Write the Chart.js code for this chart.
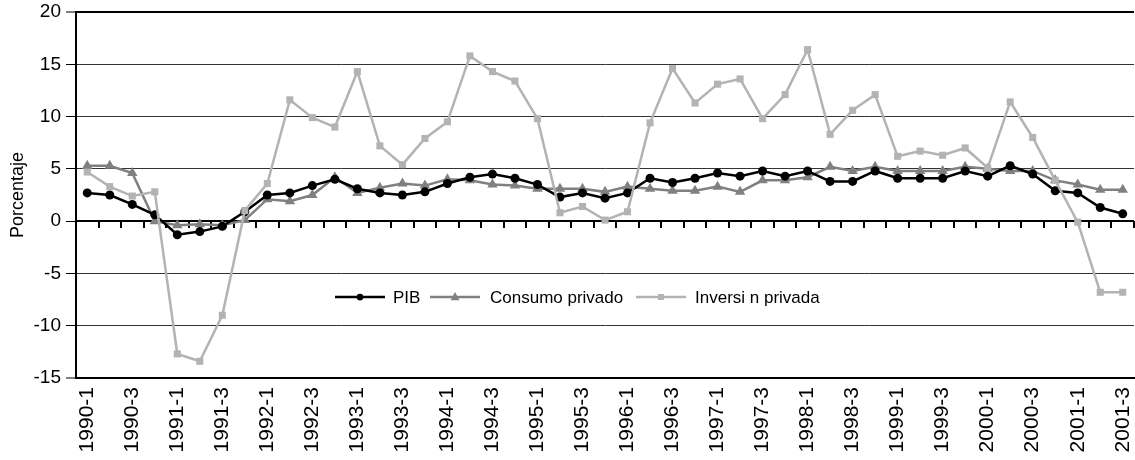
<!DOCTYPE html>
<html>
<head>
<meta charset="utf-8">
<script src="https://cdn.jsdelivr.net/npm/chart.js@4.4.1/dist/chart.umd.min.js"></script>
<style>
html,body{margin:0;padding:0;background:#fff;overflow:hidden;}
#wrap{width:1140px;height:460px;}
</style>
</head>
<body>
<div id="wrap"><canvas id="c" width="1140" height="460"></canvas></div>
<script>
// ---- data ----
const years = [1990,1991,1992,1993,1994,1995,1996,1997,1998,1999,2000,2001];
const quarters = [1,2,3,4];
const categories = [];
years.forEach(y => quarters.forEach(q => { if (!(y === 2001 && q === 4)) categories.push(y + '-' + q); }));

const pib = [2.7, 2.5, 1.6, 0.6, -1.3, -1.0, -0.5, 0.9, 2.5, 2.7, 3.4, 4.0, 3.1, 2.7, 2.5, 2.8,
  3.6, 4.2, 4.5, 4.1, 3.5, 2.3, 2.7, 2.2, 2.7, 4.1, 3.7, 4.1, 4.6, 4.3, 4.8, 4.3,
  4.8, 3.8, 3.8, 4.8, 4.1, 4.1, 4.1, 4.8, 4.3, 5.3, 4.5, 2.9, 2.7, 1.3, 0.7];
const consumoPrivado = [5.3, 5.3, 4.6, 0.0, -0.4, -0.3, -0.4, 0.1, 2.1, 1.9, 2.5, 4.2, 2.7, 3.2, 3.6, 3.4,
  4.0, 3.9, 3.5, 3.4, 3.1, 3.1, 3.1, 2.8, 3.3, 3.1, 2.9, 2.9, 3.3, 2.8, 3.9, 3.9,
  4.2, 5.2, 4.8, 5.2, 4.8, 4.8, 4.8, 5.2, 5.0, 4.8, 4.8, 3.9, 3.5, 3.0, 3.0];
const inversionPrivada = [4.7, 3.3, 2.4, 2.8, -12.7, -13.4, -9.0, 1.0, 3.6, 11.6, 9.9, 9.0, 14.3, 7.2, 5.4, 7.9,
  9.5, 15.8, 14.3, 13.4, 9.8, 0.8, 1.4, 0.1, 0.9, 9.4, 14.6, 11.3, 13.1, 13.6, 9.8, 12.1,
  16.4, 8.3, 10.6, 12.1, 6.2, 6.7, 6.3, 7.0, 5.1, 11.4, 8.0, 3.9, -0.1, -6.8, -6.8];
const seriesNames = ['PIB', 'Consumo privado', 'Inversi n privada'];
const yTicks = [-15, -10, -5, 0, 5, 10, 15, 20];
const yTitle = 'Porcentaje';

const FONT = "'Liberation Sans', Arial, sans-serif";

// zero line with category tick marks
const zeroAxisPlugin = {
  id: 'zeroAxis',
  beforeDatasetsDraw(chart) {
    const {ctx, chartArea, scales} = chart;
    const xs = scales.x, ys = scales.y;
    const y0 = Math.round(ys.getPixelForValue(0));
    ctx.save();
    ctx.strokeStyle = '#000';
    ctx.lineWidth = 2;
    ctx.beginPath();
    ctx.moveTo(chartArea.left, y0);
    ctx.lineTo(chartArea.right, y0);
    ctx.stroke();
    const n = categories.length;
    const step = xs.getPixelForValue(1) - xs.getPixelForValue(0);
    ctx.beginPath();
    for (let i = 1; i <= n; i++) {
      const x = Math.round(xs.getPixelForValue(i) - step / 2);
      ctx.moveTo(x, y0);
      ctx.lineTo(x, y0 + 7);
    }
    ctx.stroke();
    ctx.restore();
  }
};

// legend drawn inside the plot area
const innerLegendPlugin = {
  id: 'innerLegend',
  afterDatasetsDraw(chart) {
    const {ctx} = chart;
    const y = 297;
    const items = [
      {ds: 0, lx: 335, tx: 393},
      {ds: 1, lx: 430, tx: 490},
      {ds: 2, lx: 636, tx: 695}
    ];
    ctx.save();
    items.forEach(it => {
      const ds = chart.data.datasets[it.ds];
      ctx.strokeStyle = ds.borderColor;
      ctx.lineWidth = ds.borderWidth;
      ctx.beginPath();
      ctx.moveTo(it.lx, y);
      ctx.lineTo(it.lx + 50, y);
      ctx.stroke();
      const cx = it.lx + 25;
      ctx.fillStyle = ds.pointBackgroundColor;
      const r = ds.pointRadius * 0.75;
      ctx.beginPath();
      if (ds.pointStyle === 'circle') {
        ctx.arc(cx, y, r, 0, Math.PI * 2);
      } else if (ds.pointStyle === 'triangle') {
        ctx.moveTo(cx, y - r * 1.1);
        ctx.lineTo(cx + r, y + r * 0.7);
        ctx.lineTo(cx - r, y + r * 0.7);
        ctx.closePath();
      } else {
        ctx.rect(cx - r * 0.8, y - r * 0.8, r * 1.6, r * 1.6);
      }
      ctx.fill();
      ctx.fillStyle = '#000';
      ctx.font = '17px ' + FONT;
      ctx.textBaseline = 'middle';
      ctx.textAlign = 'left';
      ctx.fillText(seriesNames[it.ds], it.tx, y + 1);
    });
    ctx.restore();
  }
};

const gridColor = ctx => {
  const v = ctx.tick && ctx.tick.value;
  if (v === 20 || v === -15) return '#000';
  if (v === 0) return 'rgba(0,0,0,0)';
  return '#333';
};
const gridWidth = ctx => {
  const v = ctx.tick && ctx.tick.value;
  if (v === 20 || v === -15) return 2;
  return 1;
};

new Chart(document.getElementById('c'), {
  type: 'line',
  data: {
    labels: categories,
    datasets: [
      {
        label: seriesNames[0], data: pib, order: 2,
        borderColor: '#000', backgroundColor: '#000', pointBackgroundColor: '#000',
        pointBorderColor: '#000', borderWidth: 2.5, pointStyle: 'circle', pointRadius: 4.5,
        pointBorderWidth: 0, tension: 0
      },
      {
        label: seriesNames[1], data: consumoPrivado, order: 3,
        borderColor: '#808080', backgroundColor: '#808080', pointBackgroundColor: '#808080',
        pointBorderColor: '#808080', borderWidth: 2.5, pointStyle: 'triangle', pointRadius: 6,
        pointBorderWidth: 0, tension: 0
      },
      {
        label: seriesNames[2], data: inversionPrivada, order: 1,
        borderColor: '#b3b3b3', backgroundColor: '#b3b3b3', pointBackgroundColor: '#b3b3b3',
        pointBorderColor: '#b3b3b3', borderWidth: 2.5, pointStyle: 'rect', pointRadius: 5,
        pointBorderWidth: 0, tension: 0
      }
    ]
  },
  options: {
    responsive: false,
    animation: false,
    layout: {padding: {top: 12, right: 2, left: 0, bottom: 0}},
    plugins: {legend: {display: false}, tooltip: {enabled: false}},
    scales: {
      x: {
        offset: true,
        grid: {display: false, drawTicks: false, offset: true},
        border: {display: true, color: '#000', width: 2},
        ticks: {
          autoSkip: false, minRotation: 90, maxRotation: 90, padding: 9,
          color: '#000', font: {family: FONT, size: 21},
          callback: (v, i) => (i % 2 === 0 ? categories[i] : '')
        },
        afterFit: s => { s.height = 82; s.paddingLeft = 0; s.paddingRight = 0; }
      },
      y: {
        min: -15, max: 20,
        afterBuildTicks: s => { s.ticks = yTicks.map(v => ({value: v})); },
        grid: {color: gridColor, lineWidth: gridWidth, tickLength: 10, tickColor: '#000', tickWidth: 1},
        border: {display: true, color: '#000', width: 2},
        ticks: {color: '#000', font: {family: FONT, size: 19}, padding: 5},
        title: {display: true, text: yTitle, color: '#000', font: {family: FONT, size: 18}, padding: {top: 7, bottom: 4}},
        afterFit: s => { s.width = 76; s.paddingTop = 0; s.paddingBottom = 0; }
      }
    }
  },
  plugins: [zeroAxisPlugin, innerLegendPlugin]
});
</script>
</body>
</html>
